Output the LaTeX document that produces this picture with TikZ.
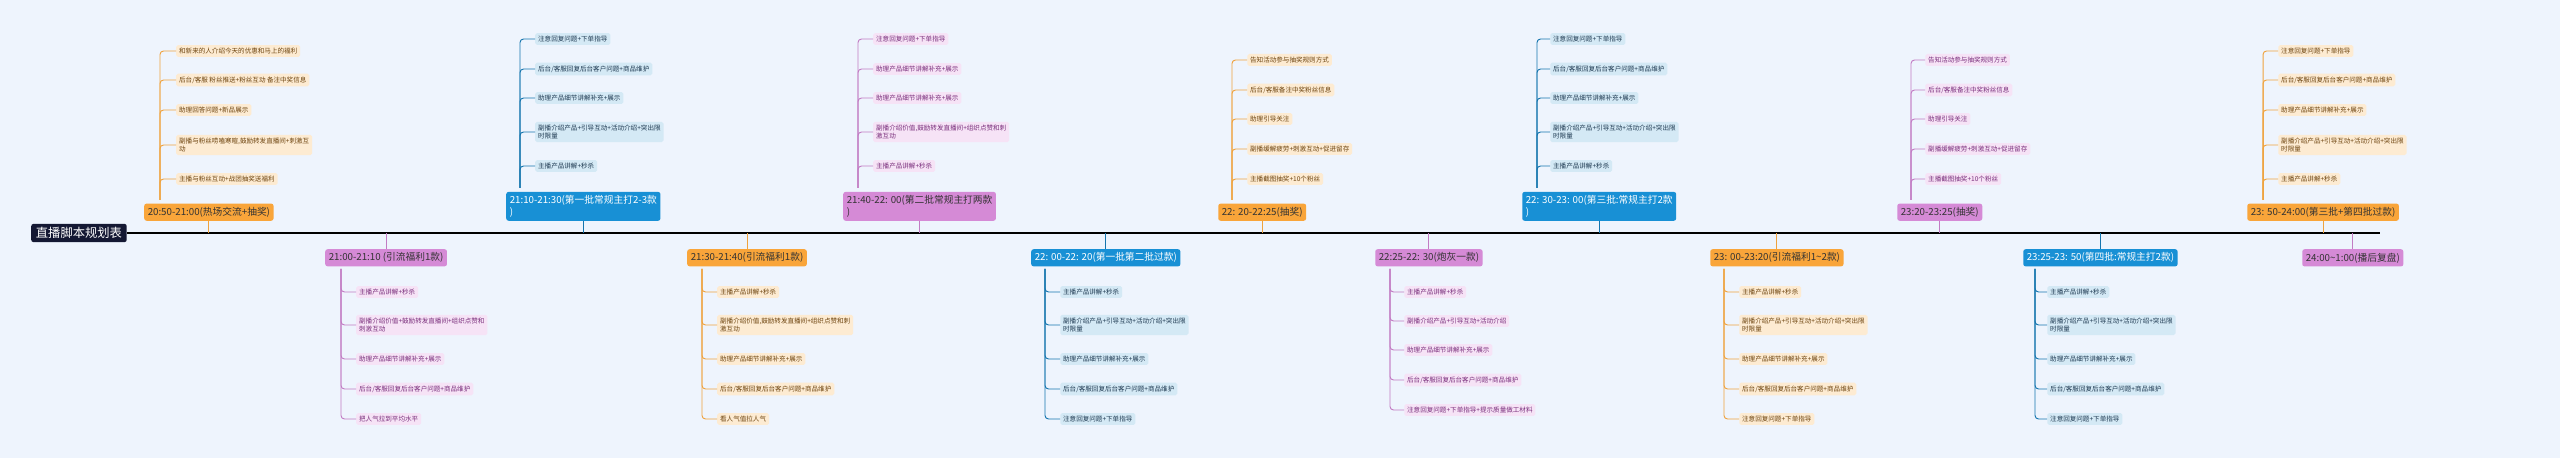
\documentclass[tikz,border=0pt]{standalone}
\usepackage{fontspec}
\setmainfont{Noto Sans CJK SC}
\usetikzlibrary{calc}
\definecolor{bg}{HTML}{EEF4FD}
\definecolor{ofill}{HTML}{F9A53A}\definecolor{oleaf}{HTML}{FDEBD2}\definecolor{otext}{HTML}{6E4510}\definecolor{oline}{HTML}{EFA33F}
\definecolor{bfill}{HTML}{1890D5}\definecolor{bleaf}{HTML}{D4E9F5}\definecolor{btext}{HTML}{1F3A52}\definecolor{bline}{HTML}{1575AE}
\definecolor{pfill}{HTML}{D58AD6}\definecolor{pleaf}{HTML}{F6E3F6}\definecolor{ptext}{HTML}{7A2F7C}\definecolor{pline}{HTML}{C27CC4}
\definecolor{rootc}{HTML}{141833}
\tikzset{
 x=0.03cm,y=-0.03cm,
 tnode/.style={rounded corners=2pt,inner xsep=3pt,inner ysep=3pt,font=\fontsize{8.3}{10}\selectfont,align=left},
 onode/.style={tnode,fill=ofill,text=black!80},
 bnode/.style={tnode,fill=bfill,text=white},
 pnode/.style={tnode,fill=pfill,text=black!80},
 leaf/.style={rounded corners=1.5pt,inner xsep=2.5pt,inner ysep=2.5pt,font=\fontsize{5.6}{7}\selectfont,align=left,anchor=west},
 oleafs/.style={leaf,fill=oleaf,text=otext}, bleafs/.style={leaf,fill=bleaf,text=btext}, pleafs/.style={leaf,fill=pleaf,text=ptext},
 olines/.style={draw=oline,line width=0.8pt}, blines/.style={draw=bline,line width=0.8pt}, plines/.style={draw=pline,line width=0.8pt},
}
\newcommand\leafs[6]{% parent, color prefix, bracket x, edge y, leaf x, list
 \coordinate (#1-bk) at (#3,#4);
 \foreach \yy/\lt [count=\k] in {#6}{
  \node[#2leafs] (#1-\k) at (#5,\yy) {\lt};
  \draw[#2lines,rounded corners=3pt] (#1-bk) |- (#1-\k.west);
 }}
\newcommand\tconn[2]{\draw[#2lines] (#1) -- (#1 |- tl);}
\begin{document}
\begin{tikzpicture}
\fill[bg] (0,0) rectangle (2560,458);
\useasboundingbox (0,0) rectangle (2560,458);
\coordinate (tl) at (0,233);
\coordinate (tlend) at (2380,233);
\node[fill=rootc,text=white,rounded corners=2pt,font=\fontsize{10.5}{12}\selectfont,inner xsep=4pt,inner ysep=3pt,anchor=west] (root) at (31,233) {直播脚本规划表};
\draw[line width=1pt,black] (root.east) -- (tlend);
% top nodes
\node[onode,anchor=south west] (t1) at (144,221) {20:50-21:00(热场交流+抽奖)};
\node[bnode,anchor=south west] (t2) at (506,221) {21:10-21:30(第一批常规主打2-3款\\)};
\node[pnode,anchor=south west] (t3) at (843,221) {21:40-22: 00(第二批常规主打两款\\)};
\node[onode,anchor=south west] (t4) at (1218,221) {22: 20-22:25(抽奖)};
\node[bnode,anchor=south west] (t5) at (1522,221) {22: 30-23: 00(第三批:常规主打2款\\)};
\node[pnode,anchor=south west] (t6) at (1897,221) {23:20-23:25(抽奖)};
\node[onode,anchor=south west] (t7) at (2247,221) {23: 50-24:00(第三批+第四批过款)};
% bottom nodes
\node[pnode,anchor=north west] (d1) at (325,249) {21:00-21:10 (引流福利1款)};
\node[onode,anchor=north west] (d2) at (687,249) {21:30-21:40(引流福利1款)};
\node[bnode,anchor=north west] (d3) at (1031,249) {22: 00-22: 20(第一批第二批过款)};
\node[pnode,anchor=north west] (d4) at (1375,249) {22:25-22: 30(炮灰一款)};
\node[onode,anchor=north west] (d5) at (1710,249) {23: 00-23:20(引流福利1\textasciitilde 2款)};
\node[bnode,anchor=north west] (d6) at (2023,249) {23:25-23: 50(第四批:常规主打2款)};
\node[pnode,anchor=north west] (d7) at (2302,249) {24:00\textasciitilde 1:00(播后复盘)};
\tconn{t1.south}{o}\tconn{t2.south}{b}\tconn{t3.south}{p}\tconn{t4.south}{o}\tconn{t5.south}{b}\tconn{t6.south}{p}\tconn{t7.south}{o}
\tconn{d1.north}{p}\tconn{d2.north}{o}\tconn{d3.north}{b}\tconn{d4.north}{p}\tconn{d5.north}{o}\tconn{d6.north}{b}\tconn{d7.north}{p}
% top leaves
\leafs{t1}{o}{160}{200}{176}{51/{和新来的人介绍今天的优惠和马上的福利},80/{后台/客服 粉丝推送+粉丝互动 备注中奖信息},110/{助理回答问题+新品展示},145/{副播与粉丝唠嗑寒暄,鼓励转发直播间+刺激互\\动},179/{主播与粉丝互动+战团抽奖送福利}}
\leafs{t2}{b}{520}{188}{535}{39/{注意回复问题+下单指导},69/{后台/客服回复后台客户问题+商品维护},98/{助理产品细节讲解补充+展示},132/{副播介绍产品+引导互动+活动介绍+突出限\\时限量},166/{主播产品讲解+秒杀}}
\leafs{t3}{p}{858}{188}{873}{39/{注意回复问题+下单指导},69/{助理产品细节讲解补充+展示},98/{助理产品细节讲解补充+展示},132/{副播介绍价值,鼓励转发直播间+组织点赞和刺\\激互动},166/{主播产品讲解+秒杀}}
\leafs{t4}{o}{1232}{200}{1247}{60/{告知活动参与抽奖规则方式},90/{后台/客服备注中奖粉丝信息},119/{助理引导关注},149/{副播缓解疲劳+刺激互动+促进留存},179/{主播截图抽奖+10个粉丝}}
\leafs{t5}{b}{1537}{188}{1550}{39/{注意回复问题+下单指导},69/{后台/客服回复后台客户问题+商品维护},98/{助理产品细节讲解补充+展示},132/{副播介绍产品+引导互动+活动介绍+突出限\\时限量},166/{主播产品讲解+秒杀}}
\leafs{t6}{p}{1911}{200}{1925}{60/{告知活动参与抽奖规则方式},90/{后台/客服备注中奖粉丝信息},119/{助理引导关注},149/{副播缓解疲劳+刺激互动+促进留存},179/{主播截图抽奖+10个粉丝}}
\leafs{t7}{o}{2263}{200}{2278}{51/{注意回复问题+下单指导},80/{后台/客服回复后台客户问题+商品维护},110/{助理产品细节讲解补充+展示},145/{副播介绍产品+引导互动+活动介绍+突出限\\时限量},179/{主播产品讲解+秒杀}}
% bottom leaves
\leafs{d1}{p}{341}{269}{356}{292/{主播产品讲解+秒杀},325/{副播介绍价值+鼓励转发直播间+组织点赞和\\刺激互动},359/{助理产品细节讲解补充+展示},389/{后台/客服回复后台客户问题+商品维护},419/{把人气拉到平均水平}}
\leafs{d2}{o}{702}{269}{717}{292/{主播产品讲解+秒杀},325/{副播介绍价值,鼓励转发直播间+组织点赞和刺\\激互动},359/{助理产品细节讲解补充+展示},389/{后台/客服回复后台客户问题+商品维护},419/{看人气值拉人气}}
\leafs{d3}{b}{1045}{269}{1060}{292/{主播产品讲解+秒杀},325/{副播介绍产品+引导互动+活动介绍+突出限\\时限量},359/{助理产品细节讲解补充+展示},389/{后台/客服回复后台客户问题+商品维护},419/{注意回复问题+下单指导}}
\leafs{d4}{p}{1390}{269}{1404}{292/{主播产品讲解+秒杀},321/{副播介绍产品+引导互动+活动介绍},350/{助理产品细节讲解补充+展示},380/{后台/客服回复后台客户问题+商品维护},410/{注意回复问题+下单指导+提示质量做工材料}}
\leafs{d5}{o}{1724}{269}{1739}{292/{主播产品讲解+秒杀},325/{副播介绍产品+引导互动+活动介绍+突出限\\时限量},359/{助理产品细节讲解补充+展示},389/{后台/客服回复后台客户问题+商品维护},419/{注意回复问题+下单指导}}
\leafs{d6}{b}{2035}{269}{2047}{292/{主播产品讲解+秒杀},325/{副播介绍产品+引导互动+活动介绍+突出限\\时限量},359/{助理产品细节讲解补充+展示},389/{后台/客服回复后台客户问题+商品维护},419/{注意回复问题+下单指导}}
\end{tikzpicture}
\end{document}
